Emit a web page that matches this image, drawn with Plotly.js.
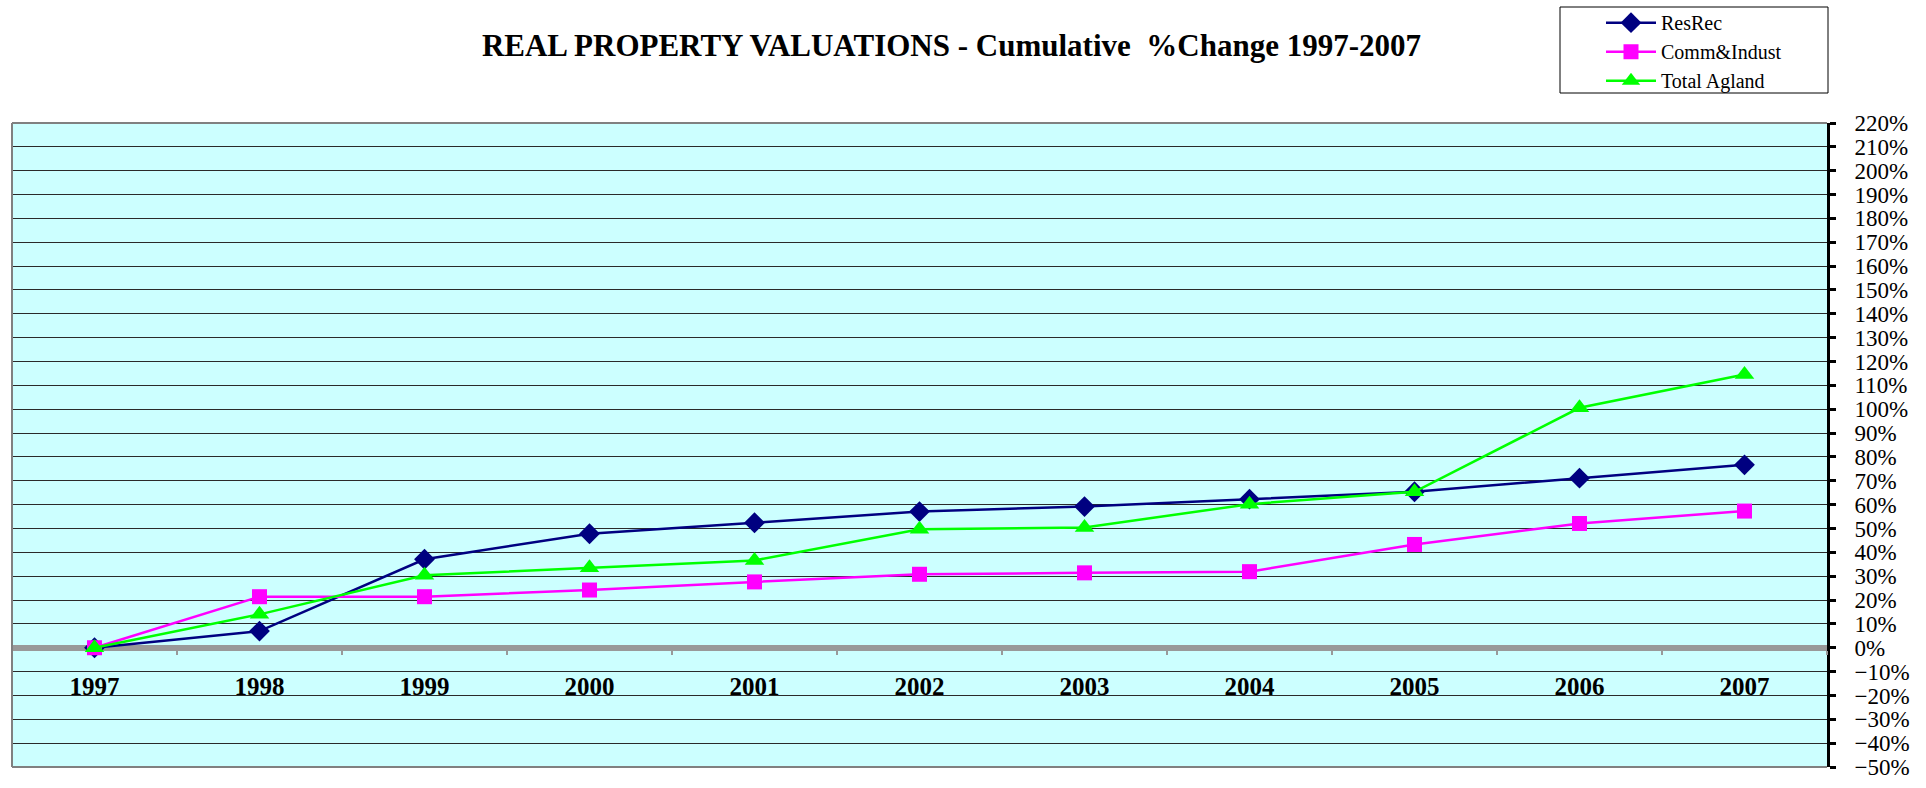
<!DOCTYPE html>
<html>
<head>
<meta charset="utf-8">
<script src="https://cdn.plot.ly/plotly-3.0.1.min.js"></script>
<style>html,body{margin:0;padding:0;background:#fff;}#chart{width:1926px;height:788px;}</style>
</head>
<body>
<div id="chart"></div>
<script>
const years = ['1997','1998','1999','2000','2001','2002','2003','2004','2005','2006','2007'];
const resRec = [0, 7.0, 37.1, 47.8, 52.4, 57.1, 59.2, 62.3, 65.4, 71.1, 76.7];
const commIndust = [0, 21.4, 21.4, 24.2, 27.6, 30.8, 31.4, 31.9, 43.3, 52.1, 57.3];
const totalAgland = [0, 14.0, 30.4, 33.5, 36.6, 49.7, 50.4, 60.2, 65.4, 100.6, 114.6];
const seriesNames = ['ResRec', 'Comm&Indust', 'Total Agland'];
const titleText = 'REAL PROPERTY VALUATIONS - Cumulative \u00a0%Change 1997-2007';

const serif = 'Liberation Serif, Times New Roman, serif';

const traces = [
  {x: years, y: resRec, name: seriesNames[0], type: 'scatter', mode: 'lines+markers',
   line: {color: '#000080', width: 2.5}, marker: {symbol: 'diamond', size: 16, color: '#000080'}},
  {x: years, y: commIndust, name: seriesNames[1], type: 'scatter', mode: 'lines+markers',
   line: {color: '#FF00FF', width: 2.5}, marker: {symbol: 'square', size: 15, color: '#FF00FF'}},
  {x: years, y: totalAgland, name: seriesNames[2], type: 'scatter', mode: 'lines+markers',
   line: {color: '#00FF00', width: 2.5}, marker: {symbol: 'triangle-up', size: 17, color: '#00FF00'}}
];

const layout = {
  width: 1926, height: 788,
  margin: {l: 12, r: 99, t: 123, b: 21, autoexpand: false},
  paper_bgcolor: '#ffffff',
  plot_bgcolor: '#CCFFFF',
  font: {family: serif, color: '#000'},
  title: {text: '<b>' + titleText + '</b>', font: {family: serif, size: 31, color: '#000'},
          xref: 'container', x: 0.494, xanchor: 'center', yref: 'container', y: 0.943, yanchor: 'middle'},
  showlegend: true,
  legend: {xref: 'container', yref: 'container', x: (1560+41)/1926, xanchor: 'left', y: 0.996, yanchor: 'top',
           bgcolor: 'rgba(0,0,0,0)', borderwidth: 0, font: {family: serif, size: 20, color: '#000'},
           tracegroupgap: 0, itemwidth: 50},
  xaxis: {
    type: 'category', range: [-0.5, 10.5], anchor: 'free', position: 50/270,
    showline: true, linecolor: '#999999', linewidth: 6, layer: 'below traces',
    ticks: 'outside', tickson: 'boundaries', ticklen: 4, tickcolor: '#999999', tickwidth: 2,
    showgrid: false, zeroline: false, fixedrange: true,
    tickfont: {family: serif, size: 25, color: '#000', weight: 'bold'},
    ticklabelstandoff: 14
  },
  yaxis: {
    side: 'right', range: [-50, 220], dtick: 10, tick0: 0, ticksuffix: '%',
    showline: true, linecolor: '#000', linewidth: 3, layer: 'below traces',
    ticks: 'outside', ticklen: 6, tickwidth: 3, tickcolor: '#000',
    showgrid: true, gridcolor: '#2a2a2a', gridwidth: 1, zeroline: false, fixedrange: true,
    tickfont: {family: serif, size: 23, color: '#000'},
    ticklabelstandoff: 14
  },
  shapes: [
    {type: 'line', xref: 'paper', yref: 'paper', x0: 0, x1: 0, y0: 0, y1: 1, line: {color: '#808080', width: 2}},
    {type: 'line', xref: 'paper', yref: 'paper', x0: 0, x1: 1, y0: 1, y1: 1, line: {color: '#808080', width: 2}},
    {type: 'line', xref: 'paper', yref: 'paper', x0: 0, x1: 1, y0: 0, y1: 0, line: {color: '#808080', width: 2}},
    {type: 'rect', xref: 'paper', yref: 'paper', x0: (1560-12)/1815, x1: (1828-12)/1815,
     y0: (767-93)/644, y1: (767-7)/644, line: {color: '#000', width: 1}, fillcolor: 'rgba(0,0,0,0)'}
  ]
};

Plotly.newPlot('chart', traces, layout, {displayModeBar: false, staticPlot: true});
</script>
</body>
</html>
